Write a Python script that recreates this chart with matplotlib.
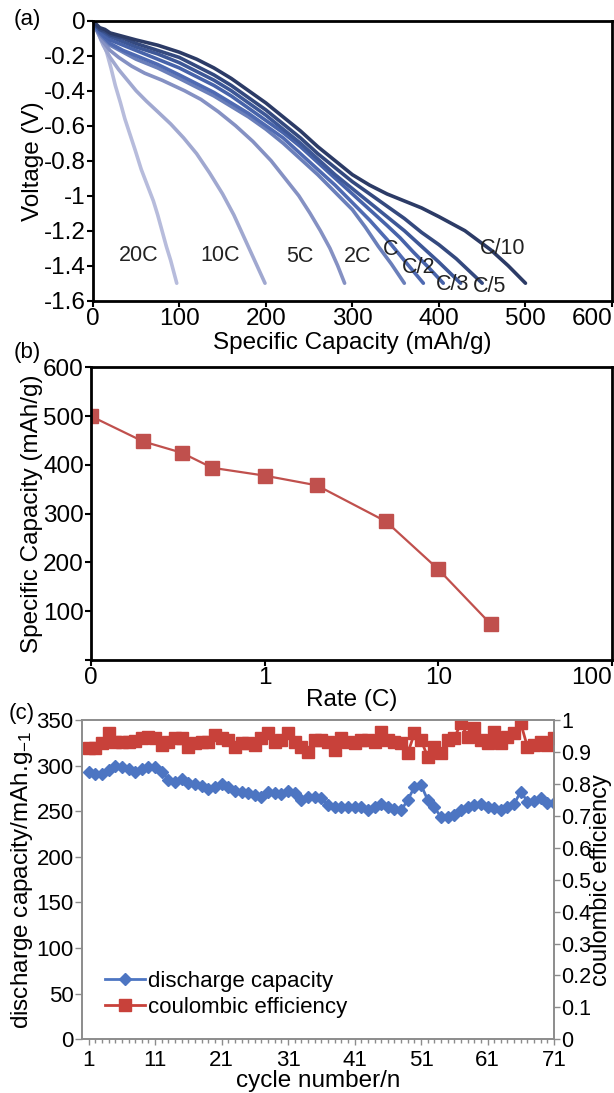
import numpy as np
import matplotlib
matplotlib.use("Agg")
import matplotlib.pyplot as plt
from matplotlib.ticker import FixedLocator, NullLocator

plt.rcParams['font.family'] = ['Liberation Sans', 'DejaVu Sans']
plt.rcParams['axes.unicode_minus'] = False
plt.rcParams['mathtext.fontset'] = 'custom'
plt.rcParams['mathtext.rm'] = 'Liberation Sans'

# ---- (a) discharge curves: capacity (mAh/g), voltage (V) ----
rate_names = ['20C', '10C', '5C', '2C', 'C', 'C/2', 'C/3', 'C/5', 'C/10']
cap_20c = [0, 5, 10, 16, 21, 26, 32, 37, 43, 49, 56, 63, 70, 75, 80, 85, 90, 97]
volt_20c = [0, -0.05, -0.10, -0.18, -0.27, -0.37, -0.47, -0.56, -0.65, -0.74, -0.85,
            -0.94, -1.03, -1.11, -1.20, -1.29, -1.37, -1.5]
cap_10c = [0, 6, 12, 20, 30, 40, 50, 62, 75, 90, 105, 120, 135, 150, 163, 175, 187, 199]
volt_10c = [0, -0.07, -0.14, -0.21, -0.28, -0.34, -0.40, -0.46, -0.52, -0.59, -0.67,
            -0.76, -0.87, -0.99, -1.11, -1.24, -1.37, -1.5]
cap_5c = [0, 5, 10, 20, 30, 45, 60, 80, 106, 125, 145, 165, 185, 206, 222, 238, 251,
          263, 274, 283, 291]
volt_5c = [0, -0.06, -0.11, -0.17, -0.21, -0.26, -0.30, -0.34, -0.40, -0.45, -0.52,
           -0.60, -0.69, -0.80, -0.90, -1.0, -1.1, -1.2, -1.3, -1.4, -1.5]
cap_2c = [0, 4, 8, 14, 20, 35, 50, 75, 100, 120, 140, 160, 180, 200, 220, 240, 260,
          280, 300, 315, 330, 345, 360]
volt_2c = [0, -0.05, -0.08, -0.11, -0.14, -0.18, -0.22, -0.27, -0.33, -0.38, -0.43,
           -0.49, -0.55, -0.62, -0.70, -0.79, -0.88, -0.98, -1.08, -1.18, -1.29, -1.39, -1.5]
cap_1c = [0, 4, 8, 14, 20, 35, 50, 75, 100, 120, 140, 160, 180, 200, 220, 240, 260,
          280, 300, 320, 340, 360, 382]
volt_1c = [0, -0.04, -0.07, -0.10, -0.13, -0.17, -0.20, -0.25, -0.31, -0.36, -0.41,
           -0.47, -0.53, -0.60, -0.67, -0.76, -0.85, -0.94, -1.04, -1.14, -1.25, -1.37, -1.5]
cap_c2 = [0, 4, 8, 14, 20, 35, 50, 75, 100, 120, 140, 160, 180, 200, 220, 240, 260,
          280, 300, 320, 340, 355, 370, 388, 405]
volt_c2 = [0, -0.04, -0.06, -0.09, -0.11, -0.14, -0.17, -0.22, -0.27, -0.32, -0.37,
           -0.43, -0.50, -0.57, -0.64, -0.72, -0.81, -0.90, -0.99, -1.08, -1.17, -1.24,
           -1.32, -1.41, -1.5]
cap_c3 = [0, 4, 8, 14, 20, 35, 50, 75, 100, 120, 140, 160, 180, 200, 220, 240, 260,
          280, 300, 320, 340, 360, 380, 400, 425]
volt_c3 = [0, -0.03, -0.05, -0.07, -0.09, -0.12, -0.15, -0.19, -0.24, -0.29, -0.34,
           -0.40, -0.47, -0.54, -0.62, -0.70, -0.79, -0.88, -0.96, -1.04, -1.12, -1.20,
           -1.29, -1.38, -1.5]
cap_c5 = [0, 4, 8, 14, 20, 35, 50, 75, 100, 120, 140, 160, 180, 200, 220, 240, 260,
          280, 300, 320, 340, 360, 380, 400, 420, 435, 450]
volt_c5 = [0, -0.03, -0.05, -0.06, -0.08, -0.10, -0.13, -0.17, -0.21, -0.26, -0.31,
           -0.37, -0.44, -0.51, -0.59, -0.67, -0.76, -0.84, -0.92, -0.99, -1.06, -1.13,
           -1.21, -1.28, -1.36, -1.43, -1.5]
cap_c10 = [0, 4, 8, 14, 20, 35, 50, 75, 100, 120, 140, 160, 180, 200, 220, 240, 260,
           280, 300, 320, 340, 360, 380, 400, 430, 460, 480, 500]
volt_c10 = [0, -0.02, -0.04, -0.05, -0.07, -0.09, -0.11, -0.14, -0.18, -0.22, -0.27,
            -0.33, -0.40, -0.47, -0.55, -0.63, -0.72, -0.80, -0.88, -0.94, -0.99, -1.03,
            -1.07, -1.12, -1.20, -1.31, -1.40, -1.5]
curve_caps = [cap_20c, cap_10c, cap_5c, cap_2c, cap_1c, cap_c2, cap_c3, cap_c5, cap_c10]
curve_volts = [volt_20c, volt_10c, volt_5c, volt_2c, volt_1c, volt_c2, volt_c3, volt_c5, volt_c10]
curve_colors = ['#b7bcdc', '#a0a8d0', '#8591c3', '#6a7fba', '#4f6ab2', '#4763aa',
                '#3d5797', '#34497f', '#2c3b66']
# where the rate names sit (capacity, voltage)
label_x = [53, 147, 239, 306, 344, 376, 416, 458, 474]
label_y = [-1.34, -1.34, -1.35, -1.35, -1.31, -1.41, -1.51, -1.52, -1.30]

# ---- (b) rate capability ----
rate_c = [0.1, 0.2, 0.333, 0.5, 1, 2, 5, 10, 20]
cap_rate = [500, 448, 425, 394, 378, 358, 284, 186, 74]

# ---- (c) cycling ----
cycles = np.arange(1, 72)
disch_cap = [293.5, 290.6, 290.9, 295.3, 300.0, 298.9, 296.0, 293.5, 296.0, 298.9,
             298.9, 293.5, 284.4, 282.5, 285.1, 280.7, 279.9, 277.7, 274.1, 277.0,
             279.6, 277.0, 272.6, 271.5, 270.4, 267.5, 266.0, 271.5, 269.7, 269.0,
             272.6, 269.7, 262.4, 265.3, 266.0, 264.2, 256.9, 254.4, 255.1, 254.4,
             254.4, 254.4, 251.5, 254.4, 258.0, 254.4, 252.2, 250.8, 262.4, 276.3,
             278.8, 262.4, 254.4, 243.4, 244.1, 246.0, 250.8, 254.4, 256.9, 258.0,
             255.1, 253.3, 250.8, 254.4, 258.0, 271.5, 260.6, 261.7, 264.2, 259.5,
             258.7]
coul_eff = [0.911, 0.911, 0.927, 0.958, 0.932, 0.932, 0.932, 0.935, 0.943, 0.948,
            0.943, 0.922, 0.932, 0.943, 0.943, 0.916, 0.927, 0.932, 0.932, 0.953,
            0.943, 0.937, 0.916, 0.927, 0.927, 0.922, 0.943, 0.958, 0.932, 0.937,
            0.958, 0.932, 0.916, 0.901, 0.937, 0.937, 0.932, 0.906, 0.943, 0.932,
            0.927, 0.937, 0.937, 0.932, 0.963, 0.937, 0.932, 0.927, 0.896, 0.958,
            0.937, 0.885, 0.916, 0.896, 0.937, 0.943, 0.990, 0.948, 0.974, 0.937,
            0.927, 0.963, 0.927, 0.948, 0.958, 0.990, 0.916, 0.922, 0.932, 0.922,
            0.943]

W, H = 614, 1093
fig = plt.figure(figsize=(W / 100, H / 100), dpi=100)


def frac(left, top, right, bottom):
    return [left / W, 1 - bottom / H, (right - left) / W, (bottom - top) / H]


tick_fs = 17.5
lab_fs = 17.5

# ---------------- panel (a) ----------------
ax_a = fig.add_axes(frac(92.8, 20.7, 612, 300.7))
for cx, vy, col in zip(curve_caps, curve_volts, curve_colors):
    ax_a.plot(cx, vy, color=col, lw=2.6, solid_capstyle='round', solid_joinstyle='round')
for name, lx, ly in zip(rate_names, label_x, label_y):
    ax_a.text(lx, ly, name, fontsize=15.5, ha='center', va='center', color='#222222')
ax_a.set_xlim(0, 600)
ax_a.set_ylim(-1.6, 0)
ax_a.set_xticks([0, 100, 200, 300, 400, 500, 600])
ax_a.set_xticklabels(['0', '100', '200', '300', '400', '500', '600'])
ax_a.get_xticklabels()[-1].set_horizontalalignment('right')
yt = [0, -0.2, -0.4, -0.6, -0.8, -1, -1.2, -1.4, -1.6]
ax_a.set_yticks(yt)
ax_a.set_yticklabels(['0', '-0.2', '-0.4', '-0.6', '-0.8', '-1', '-1.2', '-1.4', '-1.6'])
ax_a.set_xlabel('Specific Capacity (mAh/g)', fontsize=lab_fs, labelpad=2)
ax_a.set_ylabel('Voltage (V)', fontsize=lab_fs, labelpad=0)
ax_a.tick_params(labelsize=tick_fs, direction='out', length=4, width=1.5, pad=1)
for sp in ax_a.spines.values():
    sp.set_linewidth(2)
fig.text(27 / W, 1 - 20 / H, '(a)', fontsize=16, ha='center', va='center')

# ---------------- panel (b) ----------------
ax_b = fig.add_axes(frac(90.8, 367.3, 612, 660))
ax_b.plot(rate_c, cap_rate, color='#c0504d', lw=1.6, marker='s', ms=9.5,
          markerfacecolor='#c0504d', markeredgecolor='#c0504d')
ax_b.set_xscale('log')
ax_b.set_xlim(0.1, 100)
ax_b.set_ylim(0, 600)
ax_b.xaxis.set_major_locator(FixedLocator([0.1, 1, 10, 100]))
ax_b.xaxis.set_minor_locator(NullLocator())
ax_b.set_xticklabels(['0', '1', '10', '100'])
ax_b.get_xticklabels()[-1].set_horizontalalignment('right')
ax_b.set_yticks([0, 100, 200, 300, 400, 500, 600])
ax_b.set_yticklabels(['', '100', '200', '300', '400', '500', '600'])
ax_b.set_xlabel('Rate (C)', fontsize=lab_fs, labelpad=0)
ax_b.set_ylabel('Specific Capacity (mAh/g)', fontsize=lab_fs, labelpad=0)
ax_b.tick_params(labelsize=tick_fs, direction='out', length=4, width=1.5, pad=1)
for sp in ax_b.spines.values():
    sp.set_linewidth(2)
fig.text(27 / W, 1 - 352 / H, '(b)', fontsize=16, ha='center', va='center')

# ---------------- panel (c) ----------------
grey = '#8c8c8c'
blue = '#4d75c2'
red = '#c8413a'
ax_c = fig.add_axes(frac(82, 720, 554, 1039.3))
ax_r = ax_c.twinx()
l1, = ax_c.plot(cycles, disch_cap, color=blue, lw=2, marker='D', ms=6.5,
                markerfacecolor=blue, markeredgecolor=blue, label='discharge capacity')
l2, = ax_r.plot(cycles, coul_eff, color=red, lw=2, marker='s', ms=8,
                markerfacecolor=red, markeredgecolor=red, label='coulombic efficiency')
ax_c.set_xlim(0, 71)
ax_c.set_ylim(0, 350)
ax_r.set_ylim(0, 1)
ax_c.xaxis.set_major_locator(FixedLocator(list(range(1, 72, 10))))
ax_c.xaxis.set_minor_locator(FixedLocator(list(range(1, 72))))
ax_c.set_yticks(range(0, 351, 50))
ax_r.set_yticks([i / 10 for i in range(11)])
ax_r.set_yticklabels(['0', '0.1', '0.2', '0.3', '0.4', '0.5', '0.6', '0.7', '0.8', '0.9', '1'])
ax_c.tick_params(axis='y', which='major', labelsize=16, direction='out', length=5,
                 width=1, color=grey, pad=1)
ax_c.tick_params(axis='x', which='major', labelsize=16, direction='out', length=4,
                 width=1, color=grey, pad=4)
ax_c.tick_params(axis='x', which='minor', direction='out', length=3, width=1, color=grey)
ax_r.tick_params(axis='y', labelsize=15.5, direction='out', length=4, width=1,
                 color=grey, pad=1)
for a in (ax_c, ax_r):
    for sp in a.spines.values():
        sp.set_color(grey)
        sp.set_linewidth(1.2)
ax_c.set_xlabel('cycle number/n', fontsize=17.5, labelpad=-1)
ax_c.set_ylabel('discharge capacity/mAh.g$\\mathregular{_{-1}}$', fontsize=17.5, labelpad=1)
ax_r.set_ylabel('coulombic efficiency', fontsize=17, labelpad=-1)
ax_c.legend([l1, l2], ['discharge capacity', 'coulombic efficiency'], loc='lower left',
            bbox_to_anchor=(0.03, 0.04), frameon=False, fontsize=16, handlelength=1.8,
            handletextpad=0.15, labelspacing=0.2, borderaxespad=0)
fig.text(22 / W, 1 - 713 / H, '(c)', fontsize=16, ha='center', va='center')

fig.savefig('out.png', dpi=100)
